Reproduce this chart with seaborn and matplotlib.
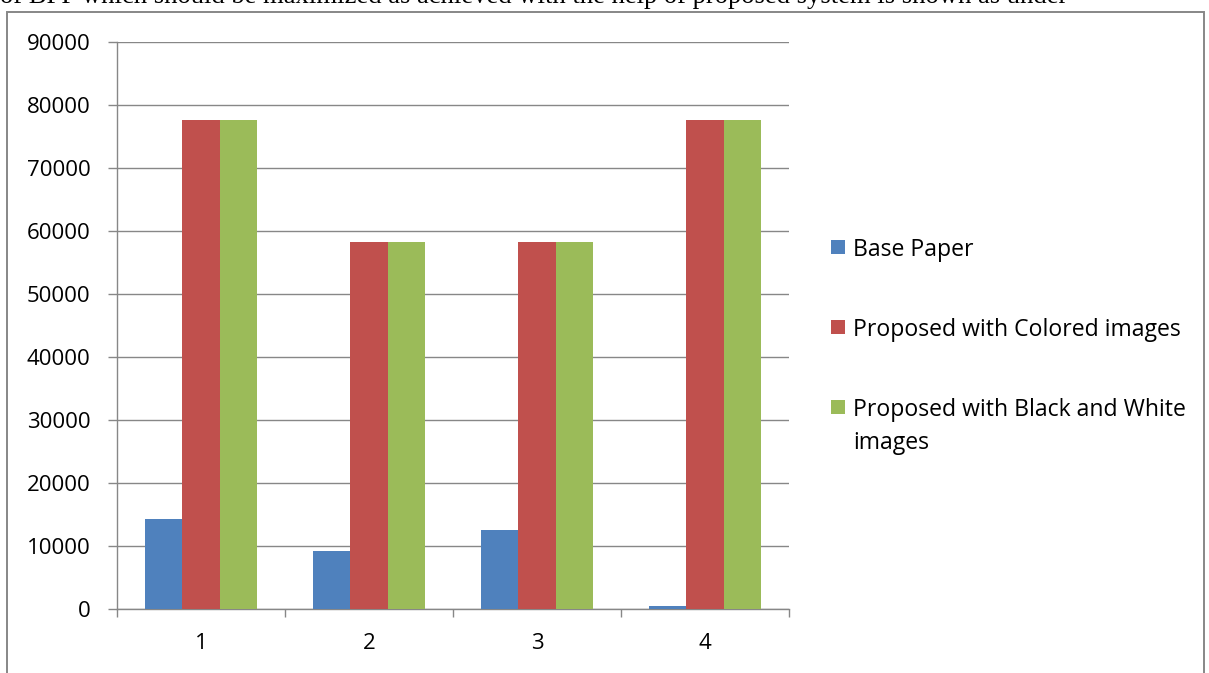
import matplotlib
matplotlib.use("Agg")
import matplotlib.pyplot as plt
from matplotlib.patches import Rectangle
import numpy as np
import pandas as pd
import seaborn as sns

# Data
categories = ["1", "2", "3", "4"]
series_names = [
    "Base Paper",
    "Proposed with Colored images",
    "Proposed with Black and White images",
]
base_paper = [14300, 9200, 12500, 500]
colored = [77600, 58200, 58200, 77600]
black_white = [77600, 58200, 58200, 77600]
y_ticks = [0, 10000, 20000, 30000, 40000, 50000, 60000, 70000, 80000, 90000]

colors = ["#4F81BD", "#C0504D", "#9BBB59"]
grid_gray = "#878787"

df = pd.DataFrame({
    "category": categories * 3,
    "series": np.repeat(series_names, len(categories)),
    "value": base_paper + colored + black_white,
})

sns.set_theme(style="white")
plt.rcParams["font.family"] = ["Open Sans", "DejaVu Sans"]

W, H = 1209, 673
fig = plt.figure(figsize=(W / 100, H / 100), dpi=100)
fig.patch.set_facecolor("white")

def px(x, y):
    return x / W, 1 - y / H

# Outer chart frame
x0, y0 = px(7, 12)
x1, _ = px(1204, 12)
fig.patches.append(Rectangle((x0, -0.05), x1 - x0, y0 + 0.05,
                             transform=fig.transFigure, fill=False,
                             edgecolor=grid_gray, linewidth=1.4))

# Running text of the surrounding document, cut at the top edge
fig.text(0.0, 1 - 3 / H,
         "of BPP which should be maximized as achieved with the help of proposed system is shown as under",
         family="Liberation Serif", fontsize=19.2, ha="left", va="baseline",
         color="black")

# Plot area
left, top = px(117, 42)
right, bottom = px(789, 609)
ax = fig.add_axes([left, bottom, right - left, top - bottom])

sns.barplot(data=df, x="category", y="value", hue="series",
            hue_order=series_names, palette=colors, width=2 / 3,
            gap=0, linewidth=0, edgecolor="none", saturation=1,
            legend=False, ax=ax, zorder=3)

ax.set_ylim(0, 90000)
ax.set_xlim(-0.5, len(categories) - 0.5)
ax.set_yticks(y_ticks)
ax.set_yticklabels([str(v) for v in y_ticks])
ax.set_xlabel("")
ax.set_ylabel("")

ax.grid(axis="y", color=grid_gray, linewidth=1.0, zorder=0)
ax.grid(axis="x", visible=False)
ax.set_axisbelow(True)

for side in ["top", "right"]:
    ax.spines[side].set_visible(False)
for side in ["left", "bottom"]:
    ax.spines[side].set_color(grid_gray)
    ax.spines[side].set_linewidth(1.0)

ax.tick_params(axis="y", which="major", direction="out", length=6.5,
               width=1.0, color=grid_gray, pad=12.5, labelsize=16,
               labelcolor="black", left=True)
# Category labels at centres, tick marks at category boundaries
ax.set_xticks(range(len(categories)))
ax.set_xticklabels(categories)
ax.set_xticks(np.arange(-0.5, len(categories), 1.0), minor=True)
ax.tick_params(axis="x", which="major", length=0, pad=17, labelsize=16,
               labelcolor="black")
ax.tick_params(axis="x", which="minor", direction="out", length=6,
               width=1.0, color=grid_gray, bottom=True)

# Legend drawn beside the plot area
legend_rows = [
    (series_names[0], [series_names[0]], 247),
    (series_names[1], [series_names[1]], 327),
    (series_names[2], ["Proposed with Black and White", "images"], 407),
]
line_step = 33
for (name, lines, yc), col in zip(legend_rows, colors):
    sx, sy = px(831, yc + 7)
    fig.patches.append(Rectangle((sx, sy), 14 / W, 14 / H,
                                 transform=fig.transFigure,
                                 facecolor=col, edgecolor="none"))
    for i, line in enumerate(lines):
        tx, ty = px(853, yc + i * line_step)
        fig.text(tx, ty, line, fontsize=16.6, ha="left", va="center_baseline",
                 color="black")

fig.savefig("out.png", dpi=100)
